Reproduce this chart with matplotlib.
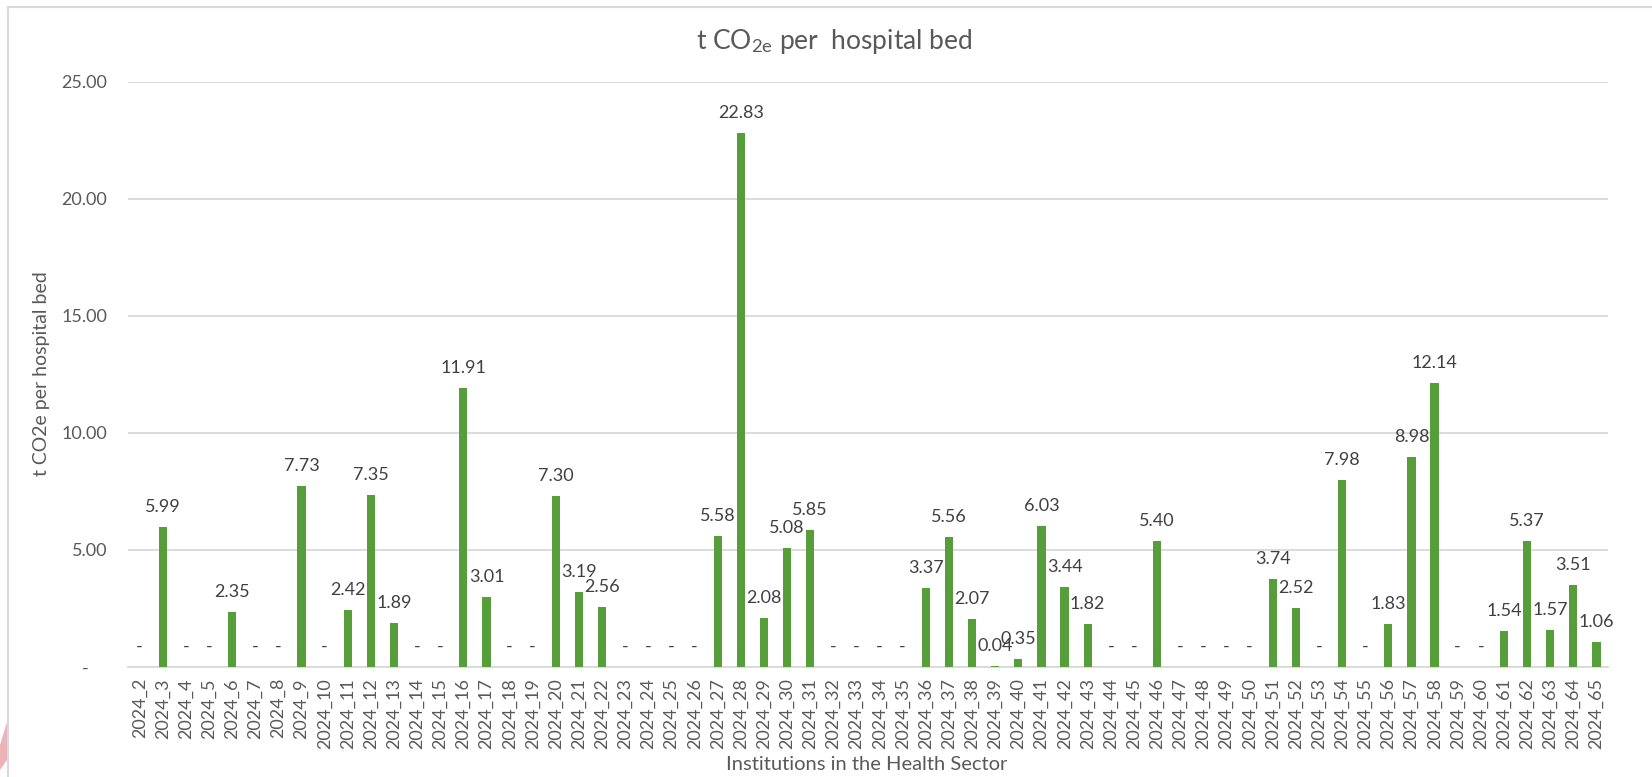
import matplotlib
matplotlib.use("Agg")
import matplotlib.pyplot as plt
from matplotlib.lines import Line2D
from matplotlib.patches import Polygon
import numpy as np

plt.rcParams['font.family'] = ['Lato', 'DejaVu Sans']
plt.rcParams['mathtext.fontset'] = 'custom'
plt.rcParams['mathtext.rm'] = 'Lato'
plt.rcParams['mathtext.it'] = 'Lato:italic'
plt.rcParams['mathtext.bf'] = 'Lato:bold'

# ---- data ----
institutions = [f"2024_{i}" for i in range(2, 66)]
values = [0, 5.99, 0, 0, 2.35, 0, 0, 7.73, 0, 2.42,
          7.35, 1.89, 0, 0, 11.91, 3.01, 0, 0, 7.30, 3.19,
          2.56, 0, 0, 0, 0, 5.58, 22.83, 2.08, 5.08, 5.85,
          0, 0, 0, 0, 3.37, 5.56, 2.07, 0.04, 0.35, 6.03,
          3.44, 1.82, 0, 0, 5.40, 0, 0, 0, 0, 3.74,
          2.52, 0, 7.98, 0, 1.83, 8.98, 12.14, 0, 0, 1.54,
          5.37, 1.57, 3.51, 1.06]
y_ticks = [0, 5, 10, 15, 20, 25]

title_text = r"t CO$_{\mathrm{2e}}$ per  hospital bed"
y_label = "t CO2e per hospital bed"
x_label = "Institutions in the Health Sector"

# ---- styling ----
W, H = 1652, 777
bar_color = "#559E3A"
grid_color = "#D9D9D9"
tick_color = "#595959"
label_color = "#404040"

fig = plt.figure(figsize=(W / 100, H / 100), dpi=100)
fig.patch.set_facecolor("white")

left, right, top, bottom = 128, 1608, 82, 667
ax = fig.add_axes([left / W, 1 - bottom / H, (right - left) / W, (bottom - top) / H])

x = np.arange(len(institutions))
ax.bar(x, values, width=0.36, color=bar_color, zorder=3)

ax.set_xlim(-0.5, len(institutions) - 0.5)
ax.set_ylim(0, 25)
ax.set_yticks(y_ticks)
ax.set_yticklabels(["-    " if v == 0 else f"{v:.2f}" for v in y_ticks])
ax.set_xticks(x)
ax.set_xticklabels(institutions, rotation=90)

ax.yaxis.grid(True, color=grid_color, linewidth=1.3, zorder=0)
ax.set_axisbelow(True)
for s in ["top", "right", "left"]:
    ax.spines[s].set_visible(False)
ax.spines["bottom"].set_color(grid_color)
ax.spines["bottom"].set_linewidth(1.3)
ax.tick_params(axis="both", length=0, labelsize=13, labelcolor=tick_color)
ax.tick_params(axis="y", pad=15)
ax.tick_params(axis="x", pad=8)

for xi, v in zip(x, values):
    txt = "-" if v == 0 else f"{v:.2f}"
    ax.annotate(txt, xy=(xi, v), xytext=(0, 14.4), textcoords="offset points",
                ha="center", va="center", fontsize=13, color=label_color, zorder=4)

# labels & title
fig.text(42 / W, 1 - 374 / H, y_label, rotation=90, ha="center", va="center",
         fontsize=14, color=tick_color)
fig.text(867 / W, 1 - 765 / H, x_label, ha="center", va="center",
         fontsize=14.5, color=tick_color)
fig.text(834 / W, 1 - 42 / H, title_text, ha="center", va="center",
         fontsize=19, color=tick_color)

# chart frame (left and top edges visible)
fig.add_artist(Line2D([8 / W, 8 / W], [0, 1 - 7 / H], transform=fig.transFigure,
                      color=grid_color, linewidth=1.5))
fig.add_artist(Line2D([8 / W, 1], [1 - 7 / H, 1 - 7 / H], transform=fig.transFigure,
                      color=grid_color, linewidth=1.5))
# partial logo at bottom-left
fig.add_artist(Polygon([[0, 1 - 745 / H], [7 / W, 1 - 722 / H], [7 / W, 1 - 760 / H],
                        [0, 1 - 770 / H]], closed=True, transform=fig.transFigure,
                       facecolor="#E8A0A8", edgecolor="none", alpha=0.8))

fig.savefig("out.png", dpi=100)
